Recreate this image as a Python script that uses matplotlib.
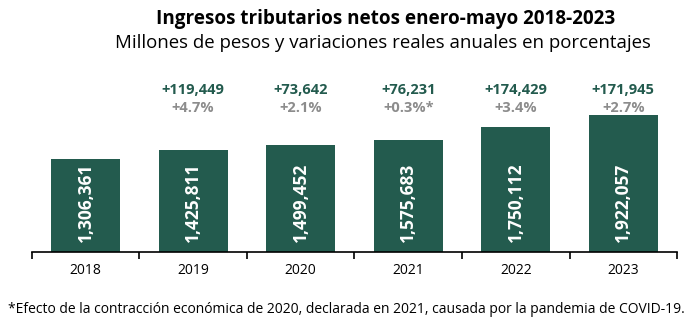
import matplotlib
matplotlib.use("Agg")
import matplotlib.pyplot as plt

plt.rcParams['font.family'] = ['Open Sans', 'DejaVu Sans']

# Data
years = ['2018', '2019', '2020', '2021', '2022', '2023']
ingresos = [1306361, 1425811, 1499452, 1575683, 1750112, 1922057]
diferencias = [None, '+119,449', '+73,642', '+76,231', '+174,429', '+171,945']
variaciones = [None, '+4.7%', '+2.1%', '+0.3%*', '+3.4%', '+2.7%']

VERDE = '#235b4e'
GRIS = '#8c8c8c'

fig = plt.figure(figsize=(6.93, 3.27), dpi=100)
ax = fig.add_axes([0.046, 0.229, 0.931, 0.588])

x = range(len(years))
bars = ax.bar(x, ingresos, width=0.64, color=VERDE)

ax.set_xlim(-0.5, len(years) - 0.5)
ax.set_ylim(0, 2694000)

for xi, v in zip(x, ingresos):
    ax.annotate(f'{v:,}', (xi, 0), xytext=(0, 7), textcoords='offset points',
                rotation=90, ha='center', va='bottom', color='white',
                fontsize=12.5, fontweight='bold')

for xi, d, p in zip(x, diferencias, variaciones):
    if d is None:
        continue
    ax.text(xi, 0.845, d, transform=ax.get_xaxis_transform(), ha='center',
            va='center', color=VERDE, fontsize=10.5, fontweight='bold')
    ax.text(xi, 0.752, p, transform=ax.get_xaxis_transform(), ha='center',
            va='center', color=GRIS, fontsize=10.5, fontweight='bold')

for s in ['top', 'right', 'left']:
    ax.spines[s].set_visible(False)
ax.spines['bottom'].set_linewidth(1.2)
ax.set_yticks([])
ax.set_xticks(list(x))
ax.set_xticklabels(years, fontsize=10)
ax.tick_params(axis='x', which='major', length=0, pad=8)
ax.set_xticks([i - 0.5 for i in range(len(years) + 1)], minor=True)
ax.tick_params(axis='x', which='minor', length=5, width=1.2, direction='out')

fig.text(0.556, 0.942, 'Ingresos tributarios netos enero-mayo 2018-2023',
         ha='center', va='center', fontsize=13.6, fontweight='bold')
fig.text(0.553, 0.868, 'Millones de pesos y variaciones reales anuales en porcentajes',
         ha='center', va='center', fontsize=13.4)
fig.text(0.5, 0.055, '*Efecto de la contracción económica de 2020, declarada en 2021, '
         'causada por la pandemia de COVID-19.', ha='center', va='center', fontsize=10)

fig.savefig('out.png', dpi=100)
